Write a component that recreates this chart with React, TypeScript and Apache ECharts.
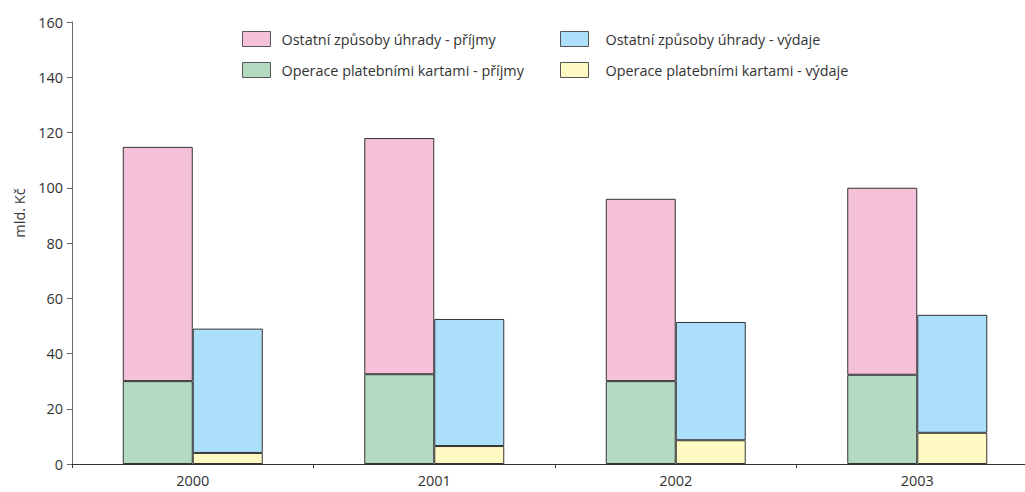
import React, { useEffect, useRef } from "react";
import * as echarts from "echarts";

const categories = ["2000", "2001", "2002", "2003"];
const kartyPrijmy = [30, 32.5, 30, 32.3];
const ostatniPrijmy = [84.8, 85.5, 66, 67.7];
const kartyVydaje = [4, 6.5, 8.6, 11.3];
const ostatniVydaje = [45, 46, 42.8, 42.7];
const yTicks = { min: 0, max: 160, interval: 20 };
const yAxisName = "mld. Kč";

const names = {
  op: "Ostatní způsoby úhrady - příjmy",
  ov: "Ostatní způsoby úhrady - výdaje",
  kp: "Operace platebními kartami - příjmy",
  kv: "Operace platebními kartami - výdaje",
};

const colors = {
  op: "#F5C1D8",
  ov: "#ABDFFA",
  kp: "#B4DBC2",
  kv: "#FFF9C3",
};

const FONT = "'Open Sans', sans-serif";

export default function App() {
  const ref = useRef<HTMLDivElement>(null);
  useEffect(() => {
    if (!ref.current) return;
    const chart = echarts.init(ref.current, undefined, { renderer: "svg" });
    const barStyle = (c: string) => ({ color: c, borderColor: "#333", borderWidth: 1 });
    const legendBase = {
      orient: "vertical",
      top: 31,
      padding: 0,
      itemWidth: 28,
      itemHeight: 15,
      itemGap: 15,
      icon: "rect",
      itemStyle: { borderColor: "#555", borderWidth: 1 },
    };
    chart.setOption({
      animation: false,
      textStyle: { fontFamily: FONT },
      graphic: [
        {
          type: "text",
          x: 19,
          y: 213,
          rotation: Math.PI / 2,
          style: {
            text: yAxisName,
            fontFamily: FONT,
            fontSize: 14.5,
            fill: "#333",
            align: "center",
            verticalAlign: "middle",
          },
        },
      ],
      legend: [
        {
          ...legendBase,
          data: [names.op, names.kp],
          left: 242,
          textStyle: { fontFamily: FONT, fontSize: 14.4, lineHeight: 15, color: "#333", padding: [0, 0, 0, 6] },
        },
        {
          ...legendBase,
          data: [names.ov, names.kv],
          left: 560,
          textStyle: { fontFamily: FONT, fontSize: 14.4, lineHeight: 15, color: "#333", padding: [0, 0, 0, 12] },
        },
      ],
      grid: { left: 72, right: -13, top: 22, bottom: 28, containLabel: false, outerBoundsMode: "none" },
      xAxis: {
        type: "category",
        data: categories,
        axisLine: { lineStyle: { color: "#333", width: 1 } },
        axisTick: { show: true, length: 4, lineStyle: { color: "#333" } },
        axisLabel: { fontFamily: FONT, fontSize: 14.5, color: "#333", margin: 9 },
      },
      yAxis: {
        type: "value",
        min: yTicks.min,
        max: yTicks.max,
        interval: yTicks.interval,
        axisLine: { show: true, lineStyle: { color: "#666", width: 1 } },
        axisTick: { show: true, length: 5, lineStyle: { color: "#666" } },
        axisLabel: { fontFamily: FONT, fontSize: 14.5, color: "#333", margin: 9 },
        splitLine: { show: false },
      },
      series: [
        { name: names.kp, type: "bar", stack: "p", data: kartyPrijmy, barWidth: 70, barGap: "0%", itemStyle: barStyle(colors.kp) },
        { name: names.kv, type: "bar", stack: "v", data: kartyVydaje, barWidth: 70, barGap: "0%", itemStyle: barStyle(colors.kv) },
        { name: names.op, type: "bar", stack: "p", data: ostatniPrijmy, barWidth: 70, barGap: "0%", itemStyle: barStyle(colors.op) },
        { name: names.ov, type: "bar", stack: "v", data: ostatniVydaje, barWidth: 70, barGap: "0%", itemStyle: barStyle(colors.ov) },
      ],
    });
    return () => chart.dispose();
  }, []);
  return (
    <div
      ref={ref}
      style={{ position: "fixed", left: 0, top: 0, width: 1025, height: 492, background: "#fff" }}
    />
  );
}
